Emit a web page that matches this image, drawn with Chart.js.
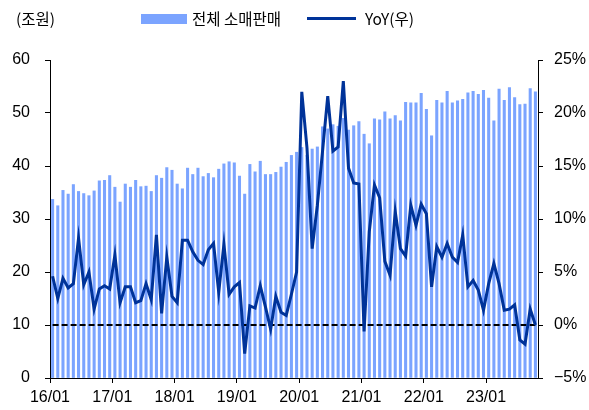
<!DOCTYPE html>
<html>
<head>
<meta charset="utf-8">
<script src="https://cdn.jsdelivr.net/npm/chart.js@4.4.1/dist/chart.umd.min.js"></script>
<style>
  html, body { margin: 0; padding: 0; background: #fff; }
  #wrap { position: relative; width: 589px; height: 410px; }
  canvas { position: absolute; left: 0; top: 0; }
  .txt { position: absolute; font: 15.5px "Noto Sans CJK KR", "Liberation Sans", sans-serif; color: #000; line-height: 18px; white-space: nowrap; }
</style>
</head>
<body>
<div id="wrap">
  <canvas id="myChart" width="589" height="410"></canvas>
  <div class="txt" style="left:16px; top:9px;">(조원)</div>
  <div style="position:absolute; left:141px; top:14px; width:46px; height:10px; background:#7ba4ff;"></div>
  <div class="txt" style="left:192px; top:9px;">전체 소매판매</div>
  <div style="position:absolute; left:307px; top:17px; width:49px; height:3px; background:#003399;"></div>
  <div class="txt" style="left:365px; top:9px;">YoY(우)</div>
</div>
<script>
// monthly categories 16/01 .. 23/10
const years = ['16', '17', '18', '19', '20', '21', '22', '23'];
const categories = [];
years.forEach(y => {
  for (let m = 1; m <= 12; m++) categories.push(y + '/' + String(m).padStart(2, '0'));
});
categories.length = 94;

const yearTicks = ['16/01', '17/01', '18/01', '19/01', '20/01', '21/01', '22/01', '23/01'];

// 전체 소매판매 (조원)
const retailSales = [
  33.7, 32.5, 35.4, 34.7, 36.5, 35.2, 34.8, 34.4, 35.3, 37.2, 37.3, 38.2,
  36.0, 33.2, 36.6, 36.0, 37.3, 36.1, 36.2, 35.2, 38.2, 37.7, 39.7, 39.2,
  36.6, 35.7, 39.6, 38.4, 39.6, 38.0, 38.6, 37.8, 39.4, 40.4, 40.8, 40.6,
  38.1, 34.7, 40.3, 38.9, 40.9, 38.4, 38.4, 38.8, 39.8, 40.7, 42.0, 42.6,
  43.5, 42.0, 43.2, 43.6, 47.4, 47.0, 47.8, 47.5, 49.0, 46.8, 47.6, 48.4,
  46.0, 44.2, 48.9, 48.7, 50.2, 48.9, 49.5, 48.5, 52.0, 51.9, 51.9, 53.7,
  50.7, 45.7, 52.4, 51.9, 54.1, 51.9, 52.3, 52.6, 53.8, 54.1, 53.5, 54.3,
  52.8, 48.5, 54.5, 52.4, 54.8, 52.9, 51.6, 51.7, 54.6, 54.0
];

// YoY (%), right axis
const yoy = [
  4.6, 2.5, 4.4, 3.5, 3.9, 8.2, 3.8, 5.0, 1.5, 3.4, 3.7, 3.4,
  6.6, 2.1, 3.6, 3.6, 2.1, 2.3, 3.9, 2.4, 8.5, 1.1, 6.4, 2.7,
  2.1, 8.0, 8.0, 6.9, 6.1, 5.7, 7.1, 7.7, 3.1, 7.6, 2.9, 3.6,
  4.0, -2.7, 1.8, 1.6, 3.7, 1.7, -0.4, 2.7, 1.2, 0.9, 2.9, 5.0,
  22.0, 16.7, 7.2, 11.3, 16.4, 21.6, 16.4, 16.8, 23.0, 14.8, 13.4, 13.3,
  -0.6, 8.8, 13.2, 12.0, 6.0, 4.7, 10.7, 7.2, 6.5, 11.3, 9.4, 11.4,
  10.5, 3.6, 7.4, 6.4, 7.7, 6.4, 5.9, 8.5, 3.6, 4.2, 3.3, 1.4,
  3.9, 5.8, 3.9, 1.4, 1.5, 1.9, -1.4, -1.8, 1.5, 0.0
];

const zeroLine = categories.map(() => 0);

const numFont = { family: '"Liberation Sans", Arial, sans-serif', size: 16 };

const ctx = document.getElementById('myChart').getContext('2d');

const myChart = new Chart(ctx, {
  data: {
    labels: categories,
    datasets: [
      {
        type: 'line',
        label: 'YoY(우)',
        data: yoy,
        yAxisID: 'y1',
        borderColor: '#003399',
        borderWidth: 3,
        pointRadius: 0,
        tension: 0,
        order: 1
      },
      {
        type: 'line',
        label: 'zero',
        data: zeroLine,
        yAxisID: 'y1',
        borderColor: '#000',
        borderWidth: 2,
        borderDash: [6, 3],
        pointRadius: 0,
        order: 2
      },
      {
        type: 'bar',
        label: '전체 소매판매',
        data: retailSales,
        yAxisID: 'y',
        backgroundColor: '#7ba4ff',
        barThickness: 2.4,
        order: 3
      }
    ]
  },
  options: {
    responsive: false,
    animation: false,
    devicePixelRatio: 1,
    layout: { padding: { top: 60, left: 0, right: 0, bottom: 0 } },
    plugins: {
      legend: { display: false },
      tooltip: { enabled: false }
    },
    scales: {
      x: {
        type: 'category',
        offset: true,
        grid: {
          offset: true,
          drawOnChartArea: false,
          tickLength: 5,
          color: c => (c.index % 12 === 0 ? '#000' : 'rgba(0,0,0,0)')
        },
        border: { color: '#000' },
        ticks: {
          autoSkip: false,
          maxRotation: 0,
          minRotation: 0,
          padding: 5,
          labelOffset: -2.6,
          color: '#000',
          font: numFont,
          callback: function (v) {
            const l = this.getLabelForValue(v);
            return yearTicks.includes(l) ? l : '';
          }
        },
        afterFit: s => { s.height = 32; }
      },
      y: {
        position: 'left',
        min: 0,
        max: 60,
        grid: { drawOnChartArea: false, tickLength: 5, color: '#000' },
        border: { color: '#000' },
        ticks: { stepSize: 10, padding: 15, color: '#000', font: numFont },
        afterFit: s => { s.width = 50; }
      },
      y1: {
        position: 'right',
        min: -5,
        max: 25,
        grid: { drawOnChartArea: false, tickLength: 5, color: '#000' },
        border: { color: '#000' },
        ticks: {
          stepSize: 5,
          padding: 11,
          color: '#000',
          font: numFont,
          callback: v => (v < 0 ? '\u2212' + Math.abs(v) : v) + '%'
        },
        afterFit: s => { s.width = 51; }
      }
    }
  }
});
</script>
</body>
</html>
